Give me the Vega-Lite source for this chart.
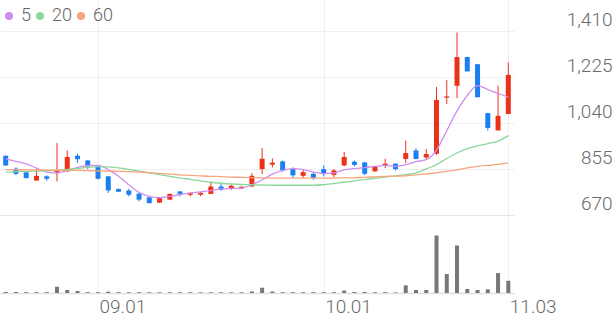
{
  "$schema": "https://vega.github.io/schema/vega-lite/v6.json",
  "padding": 0,
  "background": "white",
  "spacing": 0,
  "config": {
    "view": {"stroke": null},
    "font": "Roboto",
    "axis": {"labelFont": "Roboto", "labelFontWeight": 300, "labelColor": "#6b6b6b", "title": null}
  },
  "data": {
    "values": [
      {"date": "08.19", "open": 909, "high": 910, "low": 868, "close": 870, "vol": 100, "ma5": 896, "ma20": 843, "ma60": 853},
      {"date": "08.20", "open": 857, "high": 862, "low": 831, "close": 836, "vol": 100, "ma5": 886, "ma20": 845, "ma60": 853},
      {"date": "08.23", "open": 842, "high": 847, "low": 817, "close": 819, "vol": 80, "ma5": 876, "ma20": 846, "ma60": 852},
      {"date": "08.24", "open": 809, "high": 855, "low": 809, "close": 828, "vol": 80, "ma5": 859, "ma20": 847, "ma60": 852},
      {"date": "08.25", "open": 826, "high": 830, "low": 808, "close": 816, "vol": 80, "ma5": 843, "ma20": 848, "ma60": 851},
      {"date": "08.26", "open": 842, "high": 960, "low": 805, "close": 850, "vol": 630, "ma5": 839, "ma20": 850, "ma60": 851},
      {"date": "08.27", "open": 846, "high": 930, "low": 844, "close": 904, "vol": 300, "ma5": 849, "ma20": 854, "ma60": 850},
      {"date": "08.30", "open": 909, "high": 917, "low": 880, "close": 895, "vol": 200, "ma5": 862, "ma20": 858, "ma60": 850},
      {"date": "08.31", "open": 890, "high": 891, "low": 855, "close": 866, "vol": 80, "ma5": 869, "ma20": 862, "ma60": 849},
      {"date": "09.01", "open": 869, "high": 871, "low": 814, "close": 816, "vol": 80, "ma5": 870, "ma20": 865, "ma60": 848},
      {"date": "09.02", "open": 826, "high": 827, "low": 759, "close": 769, "vol": 130, "ma5": 853, "ma20": 864, "ma60": 847},
      {"date": "09.03", "open": 775, "high": 777, "low": 762, "close": 764, "vol": 80, "ma5": 826, "ma20": 860, "ma60": 846},
      {"date": "09.06", "open": 769, "high": 776, "low": 745, "close": 752, "vol": 80, "ma5": 792, "ma20": 854, "ma60": 845},
      {"date": "09.07", "open": 756, "high": 759, "low": 725, "close": 732, "vol": 80, "ma5": 761, "ma20": 847, "ma60": 843},
      {"date": "09.08", "open": 741, "high": 742, "low": 716, "close": 718, "vol": 70, "ma5": 745, "ma20": 840, "ma60": 841},
      {"date": "09.09", "open": 720, "high": 739, "low": 718, "close": 738, "vol": 70, "ma5": 740, "ma20": 833, "ma60": 838},
      {"date": "09.10", "open": 732, "high": 757, "low": 731, "close": 755, "vol": 70, "ma5": 745, "ma20": 826, "ma60": 835},
      {"date": "09.13", "open": 765, "high": 766, "low": 745, "close": 755, "vol": 70, "ma5": 752, "ma20": 819, "ma60": 832},
      {"date": "09.14", "open": 751, "high": 761, "low": 745, "close": 757, "vol": 70, "ma5": 759, "ma20": 814, "ma60": 830},
      {"date": "09.15", "open": 752, "high": 763, "low": 746, "close": 759, "vol": 70, "ma5": 763, "ma20": 808, "ma60": 828},
      {"date": "09.16", "open": 755, "high": 805, "low": 754, "close": 785, "vol": 70, "ma5": 768, "ma20": 802, "ma60": 826},
      {"date": "09.17", "open": 785, "high": 801, "low": 768, "close": 772, "vol": 70, "ma5": 775, "ma20": 798, "ma60": 825},
      {"date": "09.20", "open": 777, "high": 792, "low": 771, "close": 788, "vol": 70, "ma5": 777, "ma20": 795, "ma60": 823},
      {"date": "09.21", "open": 777, "high": 786, "low": 775, "close": 784, "vol": 70, "ma5": 779, "ma20": 793, "ma60": 822},
      {"date": "09.22", "open": 785, "high": 839, "low": 784, "close": 828, "vol": 150, "ma5": 792, "ma20": 792, "ma60": 821},
      {"date": "09.23", "open": 855, "high": 940, "low": 835, "close": 897, "vol": 530, "ma5": 812, "ma20": 791, "ma60": 820},
      {"date": "09.24", "open": 873, "high": 898, "low": 862, "close": 881, "vol": 150, "ma5": 835, "ma20": 790, "ma60": 819},
      {"date": "09.27", "open": 886, "high": 890, "low": 845, "close": 850, "vol": 80, "ma5": 850, "ma20": 790, "ma60": 819},
      {"date": "09.28", "open": 855, "high": 862, "low": 819, "close": 830, "vol": 80, "ma5": 857, "ma20": 790, "ma60": 819},
      {"date": "09.29", "open": 828, "high": 855, "low": 819, "close": 843, "vol": 80, "ma5": 853, "ma20": 790, "ma60": 819},
      {"date": "09.30", "open": 836, "high": 842, "low": 812, "close": 819, "vol": 80, "ma5": 843, "ma20": 790, "ma60": 819},
      {"date": "10.01", "open": 855, "high": 870, "low": 826, "close": 835, "vol": 80, "ma5": 837, "ma20": 792, "ma60": 819},
      {"date": "10.05", "open": 832, "high": 855, "low": 822, "close": 850, "vol": 80, "ma5": 840, "ma20": 797, "ma60": 819},
      {"date": "10.06", "open": 870, "high": 924, "low": 866, "close": 904, "vol": 250, "ma5": 852, "ma20": 802, "ma60": 820},
      {"date": "10.07", "open": 885, "high": 890, "low": 866, "close": 872, "vol": 100, "ma5": 857, "ma20": 808, "ma60": 821},
      {"date": "10.08", "open": 882, "high": 884, "low": 831, "close": 836, "vol": 100, "ma5": 861, "ma20": 813, "ma60": 822},
      {"date": "10.12", "open": 846, "high": 868, "low": 845, "close": 866, "vol": 80, "ma5": 866, "ma20": 818, "ma60": 824},
      {"date": "10.13", "open": 869, "high": 897, "low": 859, "close": 877, "vol": 80, "ma5": 870, "ma20": 823, "ma60": 826},
      {"date": "10.14", "open": 877, "high": 878, "low": 850, "close": 855, "vol": 60, "ma5": 866, "ma20": 828, "ma60": 827},
      {"date": "10.15", "open": 896, "high": 970, "low": 880, "close": 920, "vol": 770, "ma5": 873, "ma20": 833, "ma60": 828},
      {"date": "10.18", "open": 930, "high": 940, "low": 895, "close": 896, "vol": 300, "ma5": 885, "ma20": 840, "ma60": 832},
      {"date": "10.19", "open": 902, "high": 936, "low": 893, "close": 916, "vol": 300, "ma5": 893, "ma20": 856, "ma60": 836},
      {"date": "10.20", "open": 917, "high": 1186, "low": 913, "close": 1134, "vol": 5770, "ma5": 932, "ma20": 873, "ma60": 840},
      {"date": "10.21", "open": 1143, "high": 1215, "low": 1117, "close": 1148, "vol": 1900, "ma5": 1010, "ma20": 898, "ma60": 846},
      {"date": "10.22", "open": 1191, "high": 1406, "low": 1141, "close": 1307, "vol": 4770, "ma5": 1090, "ma20": 920, "ma60": 852},
      {"date": "10.25", "open": 1307, "high": 1308, "low": 1249, "close": 1249, "vol": 400, "ma5": 1152, "ma20": 938, "ma60": 860},
      {"date": "10.26", "open": 1278, "high": 1279, "low": 1145, "close": 1145, "vol": 300, "ma5": 1192, "ma20": 949, "ma60": 866},
      {"date": "10.28", "open": 1081, "high": 1082, "low": 1010, "close": 1021, "vol": 370, "ma5": 1176, "ma20": 958, "ma60": 870},
      {"date": "11.01", "open": 1011, "high": 1192, "low": 1011, "close": 1070, "vol": 2000, "ma5": 1160, "ma20": 968, "ma60": 874},
      {"date": "11.03", "open": 1077, "high": 1285, "low": 1077, "close": 1235, "vol": 1230, "ma5": 1145, "ma20": 990, "ma60": 880}
    ]
  },
  "vconcat": [
    {
      "width": 514,
      "height": 215,
      "encoding": {
        "x": {
          "field": "date", "type": "ordinal",
          "scale": {"type": "point", "padding": 0.555},
          "axis": {"orient": "bottom", "values": ["09.01", "10.01", "11.03"], "labels": false, "ticks": false, "domain": true, "domainColor": "#e4e4e4", "grid": true, "gridColor": "#efefef"}
        }
      },
      "layer": [
        {
          "mark": {"type": "rule", "strokeWidth": 1},
          "encoding": {
            "y": {
              "field": "low", "type": "quantitative",
              "scale": {"domain": [670, 1537], "nice": false, "zero": false},
              "axis": {"orient": "right", "values": [670, 855, 1040, 1225, 1410], "labelExpr": "format(datum.value, ',')", "labelAlign": "right", "labelPadding": 98, "tickSize": 0, "ticks": false, "domain": false, "grid": true, "gridColor": "#efefef", "labelFontSize": 19, "labelBaseline": "alphabetic", "labelOffset": -6}
            },
            "y2": {"field": "high"},
            "color": {"condition": {"test": "datum.close >= datum.open", "value": "#ec3118"}, "value": "#1b7ff2"}
          }
        },
        {
          "mark": {"type": "bar", "size": 5},
          "encoding": {
            "y": {"field": "open", "type": "quantitative"},
            "y2": {"field": "close"},
            "color": {"condition": {"test": "datum.close >= datum.open", "value": "#ec3118"}, "value": "#1b7ff2"}
          }
        },
        {
          "transform": [{"fold": ["ma5", "ma20", "ma60"], "as": ["ma", "val"]}],
          "mark": {"type": "line", "interpolate": "monotone", "strokeWidth": 1.3},
          "encoding": {
            "y": {"field": "val", "type": "quantitative"},
            "color": {
              "field": "ma", "type": "nominal",
              "scale": {"domain": ["ma5", "ma20", "ma60"], "range": ["#d08cf0", "#8cd89c", "#f5a57d"]},
              "legend": {
                "orient": "none", "legendX": 0, "legendY": 7, "direction": "horizontal", "title": null,
                "symbolType": "circle", "symbolSize": 64, "symbolStrokeWidth": 0,
                "labelExpr": "replace(datum.label, 'ma', '')",
                "labelFontSize": 18, "labelColor": "#666666", "labelFont": "Roboto", "labelFontWeight": 300,
                "labelOffset": 3, "columnPadding": 0, "padding": 0,
                "encode": {"symbols": {"update": {"fill": {"scale": "color", "field": "value"}, "opacity": {"value": 1}}}}
              }
            }
          }
        }
      ]
    },
    {
      "width": 514,
      "height": 78,
      "mark": {"type": "bar", "size": 4, "color": "#777777"},
      "encoding": {
        "x": {
          "field": "date", "type": "ordinal",
          "scale": {"type": "point", "padding": 0.555},
          "axis": {"orient": "bottom", "values": ["09.01", "10.01", "11.03"], "labelAlign": "left", "labelOffset": 1, "labelPadding": 4, "labelFontSize": 19, "labelOverlap": false, "labelAngle": 0, "ticks": false, "tickSize": 0, "domain": true, "domainColor": "#e0e0e0", "domainWidth": 1.5, "grid": true, "gridColor": "#efefef"}
        },
        "y": {"field": "vol", "type": "quantitative", "scale": {"domain": [0, 7830], "nice": false}, "axis": null}
      }
    }
  ]
}
